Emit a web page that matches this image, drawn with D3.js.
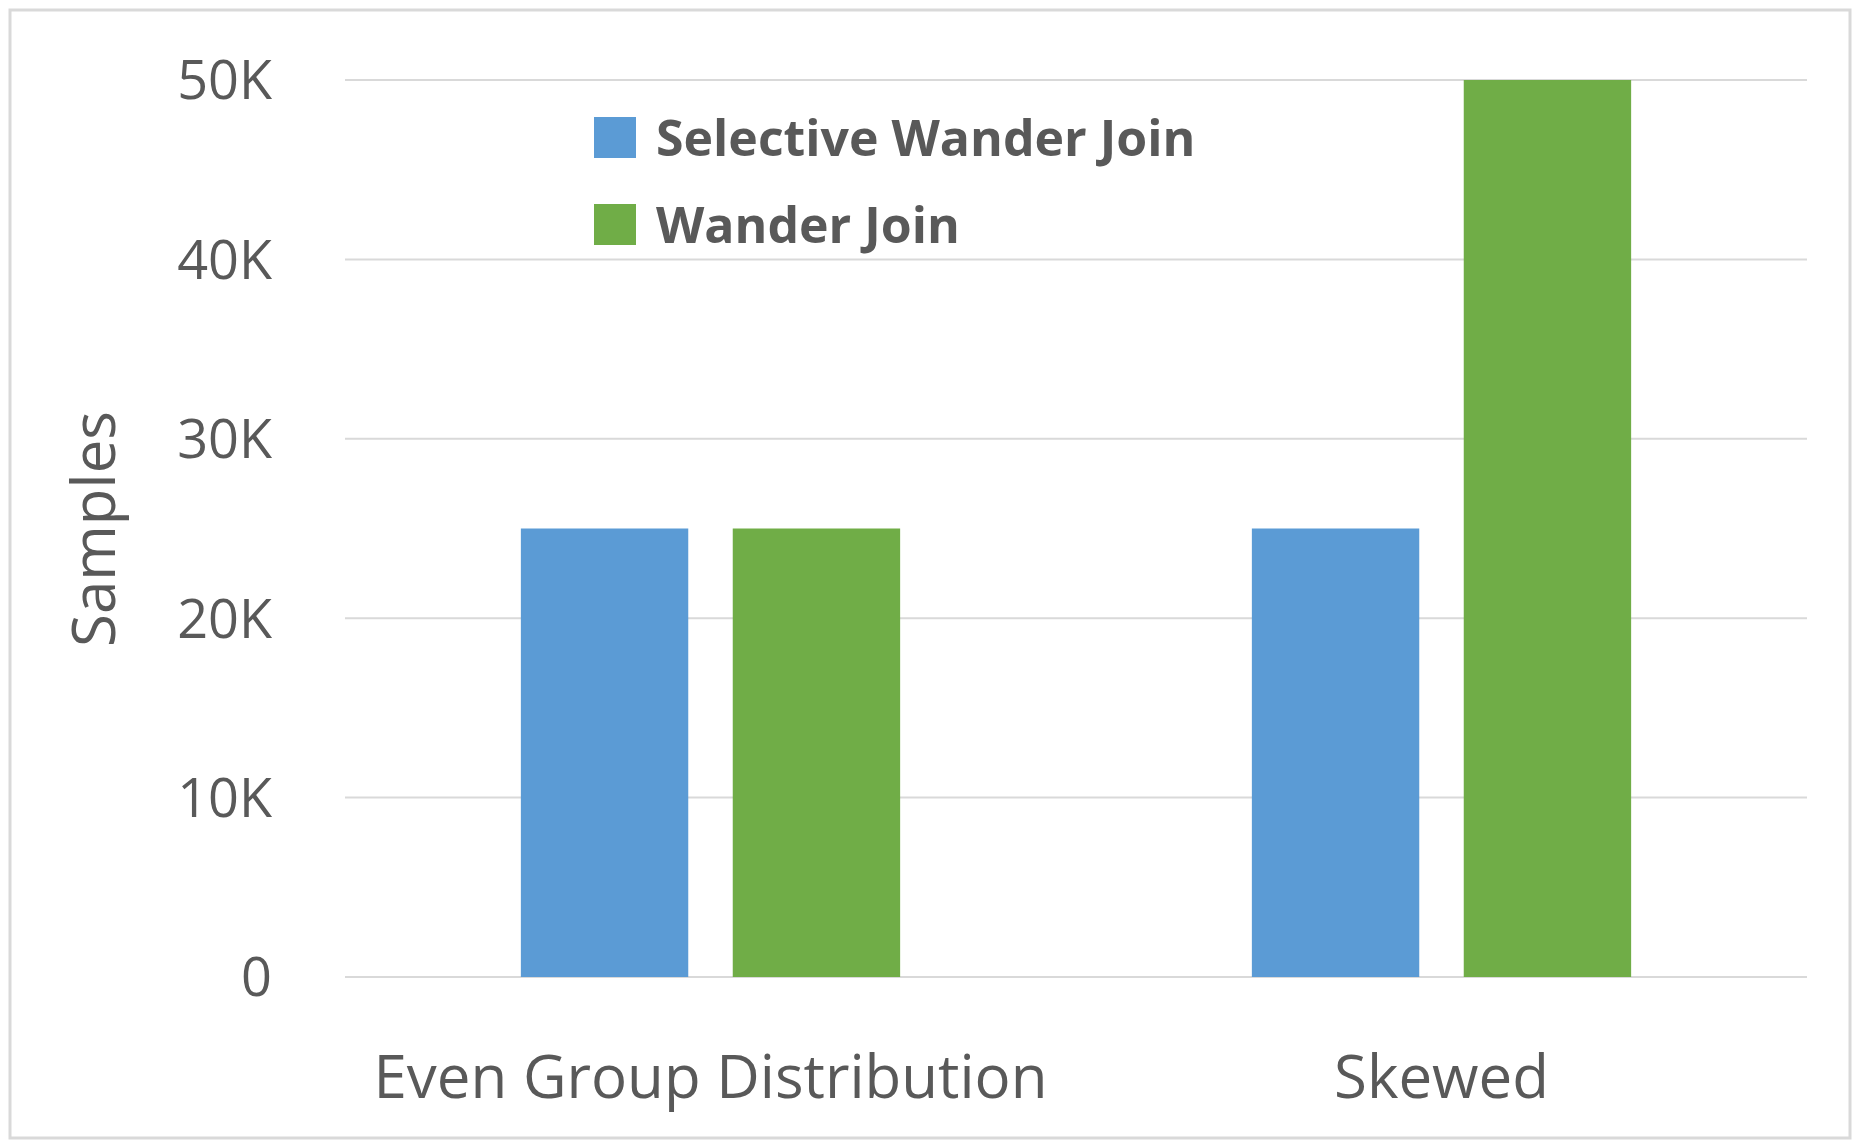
<!DOCTYPE html>
<html><head><meta charset="utf-8">
<script src="https://cdn.jsdelivr.net/npm/d3@7"></script>
<style>body{margin:0;background:#fff}</style>
</head><body>
<svg id="chart" width="1864" height="1148"></svg>
<script>
// data
const categories = ["Even Group Distribution", "Skewed"];
const seriesNames = ["Selective Wander Join", "Wander Join"];
const selectiveWJ = [25000, 25000];
const wanderJoin = [25000, 50000];
const yTicks = [0, 10000, 20000, 30000, 40000, 50000];
const colors = ["#5b9bd5", "#70ad47"];

const svg = d3.select("#chart");
const font = "'Open Sans', 'Noto Sans', sans-serif";
const textCol = "#595959";

// border
svg.append("rect").attr("x", 10).attr("y", 10).attr("width", 1840).attr("height", 1128)
	.attr("fill", "#fff").attr("stroke", "#d9d9d9").attr("stroke-width", 3);

const plotLeft = 345, plotRight = 1807, plotTop = 80, plotBottom = 977;
const x = d3.scaleBand().domain(categories).range([plotLeft, plotRight]);
const y = d3.scaleLinear().domain([0, 50000]).range([plotBottom, plotTop]);
const inner = d3.scaleBand().domain(seriesNames).range([0, x.bandwidth()]).paddingInner(0.21).paddingOuter(0.83);

// gridlines
svg.selectAll(".grid").data(yTicks).enter().append("line")
	.attr("x1", plotLeft).attr("x2", plotRight)
	.attr("y1", d => y(d)).attr("y2", d => y(d))
	.attr("stroke", "#d9d9d9").attr("stroke-width", 2);

// y labels
svg.selectAll(".ylab").data(yTicks).enter().append("text")
	.attr("x", 272).attr("y", d => y(d)).attr("dy", "0.36em")
	.attr("text-anchor", "end").attr("font-family", font).attr("font-size", 54)
	.attr("fill", textCol).text(d => d === 0 ? "0" : (d / 1000) + "K");

// bars
const series = [selectiveWJ, wanderJoin];
series.forEach((vals, si) => {
	svg.selectAll(".bar" + si).data(vals).enter().append("rect")
		.attr("x", (d, i) => x(categories[i]) + inner(seriesNames[si]))
		.attr("width", inner.bandwidth())
		.attr("y", d => y(d))
		.attr("height", d => plotBottom - y(d))
		.attr("fill", colors[si]);
});

// category labels
svg.selectAll(".xlab").data(categories).enter().append("text")
	.attr("x", d => x(d) + x.bandwidth() / 2).attr("y", 1098)
	.attr("text-anchor", "middle").attr("font-family", font).attr("font-size", 60)
	.attr("fill", textCol).text(d => d);

// y title
svg.append("text").attr("transform", "translate(115,529) rotate(-90)")
	.attr("text-anchor", "middle").attr("font-family", font).attr("font-size", 60)
	.attr("fill", textCol).text("Samples");

// legend
const leg = svg.selectAll(".leg").data(seriesNames).enter().append("g")
	.attr("transform", (d, i) => `translate(594,${117 + i * 87})`);
leg.append("rect").attr("width", 42).attr("height", 41).attr("fill", (d, i) => colors[i]);
leg.append("text").attr("x", 62).attr("y", 21).attr("dy", "0.36em")
	.attr("font-family", font).attr("font-size", 50).attr("font-weight", "bold")
	.attr("fill", textCol).text(d => d);
</script>
</body></html>
